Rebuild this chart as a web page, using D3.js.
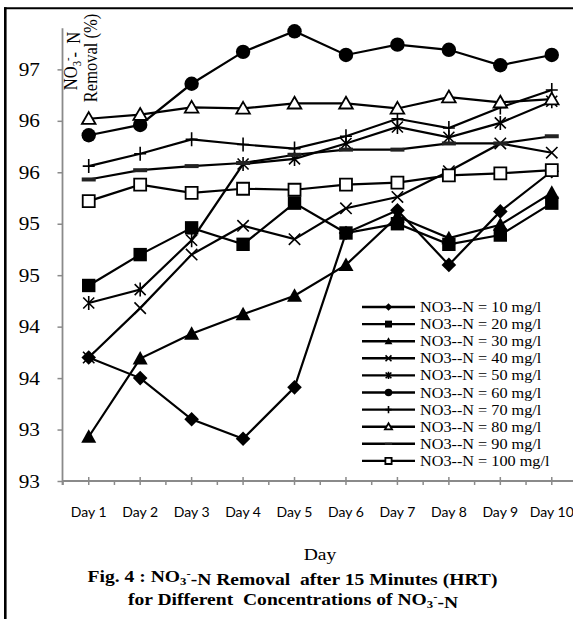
<!DOCTYPE html>
<html><head><meta charset="utf-8">
<script src="https://cdn.jsdelivr.net/npm/d3@7"></script>
<style>body{margin:0;background:#fff}svg{display:block}</style>
</head><body>
<svg id="c" width="573" height="619"></svg>
<script>
// ---------- data ----------
const days = ["Day 1","Day 2","Day 3","Day 4","Day 5","Day 6","Day 7","Day 8","Day 9","Day 10"];
const seriesNames = ["NO3--N = 10 mg/l","NO3--N = 20 mg/l","NO3--N = 30 mg/l","NO3--N = 40 mg/l","NO3--N = 50 mg/l",
  "NO3--N = 60 mg/l","NO3--N = 70 mg/l","NO3--N = 80 mg/l","NO3--N = 90 mg/l","NO3--N = 100 mg/l"];
const s10  = [93.70, 93.50, 93.10, 92.91, 93.41, 94.91, 95.13, 94.60, 95.12, 95.51];
const s20  = [94.40, 94.70, 94.96, 94.80, 95.20, 94.91, 95.00, 94.80, 94.89, 95.20];
const s30  = [92.93, 93.69, 93.93, 94.12, 94.30, 94.60, 95.07, 94.86, 94.99, 95.30];
const s40  = [93.70, 94.18, 94.70, 94.98, 94.85, 95.15, 95.26, 95.51, 95.78, 95.69];
const s50  = [94.23, 94.36, 94.84, 95.58, 95.63, 95.78, 95.94, 95.84, 95.98, 96.19];
const s60  = [95.86, 95.96, 96.36, 96.67, 96.87, 96.64, 96.74, 96.69, 96.54, 96.64];
const s70  = [95.56, 95.68, 95.82, 95.77, 95.73, 95.85, 96.02, 95.93, 96.13, 96.30];
const s80  = [96.02, 96.06, 96.13, 96.12, 96.17, 96.17, 96.12, 96.23, 96.18, 96.21];
const s90  = [95.43, 95.52, 95.56, 95.59, 95.67, 95.72, 95.72, 95.78, 95.78, 95.85];
const s100 = [95.22, 95.38, 95.30, 95.34, 95.33, 95.38, 95.40, 95.47, 95.49, 95.52];
const seriesValues = [s10, s20, s30, s40, s50, s60, s70, s80, s90, s100];
const markerTypes = ["diamond","square","triangle","x","asterisk","circle","plus","openTriangle","dash","openSquare"];
const yTickValues = [92.5, 93, 93.5, 94, 94.5, 95, 95.5, 96, 96.5];
const yTickLabels = ["93","93","94","94","95","95","96","96","97"];

// ---------- setup ----------
const svg = d3.select("#c");
const SX = 1.12; // horizontal text stretch of the original image
const serif = "'Liberation Serif','Times New Roman',serif";
const x = d3.scaleBand().domain(days).range([63, 577.5]).padding(0);
const cx = d => x(d) + x.bandwidth() / 2;
const y = d3.scaleLinear().domain([92.5, 96.9]).range([481, 28.2]);
const axisCol = "#8a8a8a";

function stext(parent, px, py, anchor, size, weight, family) {
  const g = parent.append("g").attr("transform", `translate(${px},${py}) scale(${SX},1)`);
  return g.append("text").attr("text-anchor", anchor).attr("font-size", size)
    .attr("font-weight", weight || "normal").attr("font-family", family || serif).attr("fill", "#000");
}

// outer frame
svg.append("line").attr("x1", 5.3).attr("x2", 5.3).attr("y1", 7.3).attr("y2", 619).attr("stroke", "#000").attr("stroke-width", 2.6);
svg.append("line").attr("x1", 4).attr("x2", 573).attr("y1", 8.3).attr("y2", 8.3).attr("stroke", "#000").attr("stroke-width", 2);

// y axis
const yAxis = svg.append("g").attr("transform", "translate(62.5,0)")
  .call(d3.axisLeft(y).tickValues(yTickValues).tickFormat("").tickSize(5).tickSizeOuter(0));
yAxis.select(".domain").attr("stroke", axisCol).attr("stroke-width", 1.8);
yAxis.selectAll(".tick line").attr("stroke", axisCol).attr("stroke-width", 1.5);
yAxis.select(".domain").attr("d", `M0,${y.range()[1]}V485`);
yTickValues.forEach((v, i) => {
  stext(svg, 40, y(v) + 6.5, "end", 19).text(yTickLabels[i]);
});

// x axis
const xg = svg.append("g");
xg.append("line").attr("x1", 62.5).attr("x2", 578).attr("y1", 481).attr("y2", 481).attr("stroke", axisCol).attr("stroke-width", 1.8);
days.forEach(d => {
  xg.append("line").attr("x1", cx(d)).attr("x2", cx(d)).attr("y1", 477).attr("y2", 485).attr("stroke", axisCol).attr("stroke-width", 1.5);
  xg.append("line").attr("x1", x(d)).attr("x2", x(d)).attr("y1", 481).attr("y2", 485).attr("stroke", axisCol).attr("stroke-width", 1.5);
  xg.append("text").attr("x", cx(d)).attr("y", 516.5).attr("text-anchor", "middle")
    .attr("font-family", "Lato, 'Liberation Sans', sans-serif").attr("font-size", 14).attr("fill", "#000").text(d);
});

// axis titles
stext(svg, 320, 560, "middle", 17.5).text("Day");
function noTspans(t, big) {
  t.append("tspan").text("NO");
  t.append("tspan").attr("font-size", "0.65em").attr("dy", "0.3em").text("3");
  t.append("tspan").attr("font-size", "0.65em").attr("dy", "-0.75em").text("-");
  t.append("tspan").attr("dy", "0.45em").text(big);
}
const yt1 = svg.append("g").attr("transform", "translate(77,61) rotate(-90) scale(1,1.12)")
  .append("text").attr("text-anchor", "middle").attr("font-family", serif).attr("font-size", 16.5).attr("fill", "#000")
  .attr("style", "white-space:pre");
noTspans(yt1, "-  N");
svg.append("g").attr("transform", "translate(97,58) rotate(-90) scale(1,1.12)")
  .append("text").attr("text-anchor", "middle").attr("font-family", serif).attr("font-size", 16.5).attr("fill", "#000")
  .text("Removal (%)");

// figure caption
const t1 = stext(svg, 292.5, 582, "middle", 17.5, "bold").attr("style", "white-space:pre");
t1.append("tspan").text("Fig. 4 : ");
noTspans(t1, "-N Removal  after 15 Minutes (HRT)");
const t2 = stext(svg, 293, 605, "middle", 17.5, "bold").attr("style", "white-space:pre");
t2.append("tspan").text("for Different  Concentrations of ");
noTspans(t2, "-N");

// ---------- markers ----------
function drawMarker(sel, type, s) {
  const k = v => v * s;
  let d, fill = "#000", stroke = "none", sw = 0;
  switch (type) {
    case "diamond": d = `M0,${k(-7.3)}L${k(7.3)},0L0,${k(7.3)}L${k(-7.3)},0Z`; break;
    case "square": d = `M${k(-6.7)},${k(-6.7)}h${k(13.4)}v${k(13.4)}h${k(-13.4)}Z`; break;
    case "triangle": d = `M0,${k(-7.5)}L${k(7.5)},${k(6)}L${k(-7.5)},${k(6)}Z`; break;
    case "x": d = `M${k(-5.7)},${k(-5.7)}L${k(5.7)},${k(5.7)}M${k(-5.7)},${k(5.7)}L${k(5.7)},${k(-5.7)}`; fill = "none"; stroke = "#000"; sw = 1.6; break;
    case "asterisk": d = `M${k(-5.5)},${k(-5.5)}L${k(5.5)},${k(5.5)}M${k(-5.5)},${k(5.5)}L${k(5.5)},${k(-5.5)}M0,${k(-7)}L0,${k(7)}`; fill = "none"; stroke = "#000"; sw = 1.6; break;
    case "circle": { const r = k(7.2); d = `M${r},0A${r},${r} 0 1,1 ${-r},0A${r},${r} 0 1,1 ${r},0Z`; break; }
    case "plus": d = `M0,${k(-7)}L0,${k(7)}M${k(-6)},0L${k(6)},0`; fill = "none"; stroke = "#000"; sw = 1.6; break;
    case "openTriangle": d = `M0,${k(-6.6)}L${k(6.8)},${k(5.2)}L${k(-6.8)},${k(5.2)}Z`; fill = "#fff"; stroke = "#000"; sw = 1.8; break;
    case "dash": d = `M${k(-7)},${k(-2)}h${k(14)}v${k(4)}h${k(-14)}Z`; fill = "#222"; break;
    case "openSquare": d = `M${k(-6)},${k(-6)}h${k(12)}v${k(12)}h${k(-12)}Z`; fill = "#fff"; stroke = "#000"; sw = 1.8; break;
  }
  sel.append("path").attr("d", d).attr("fill", fill).attr("stroke", stroke).attr("stroke-width", sw);
}

// ---------- series ----------
const line = d3.line().x((v, i) => cx(days[i])).y(v => y(v));
const plot = svg.append("g");
seriesValues.forEach((vals, si) => {
  const g = plot.append("g");
  g.append("path").attr("d", line(vals)).attr("fill", "none").attr("stroke", "#000").attr("stroke-width", 2.2);
  vals.forEach((v, i) => {
    const mg = g.append("g").attr("transform", `translate(${cx(days[i])},${y(v)})`);
    drawMarker(mg, markerTypes[si], 1);
  });
});

// ---------- legend ----------
const leg = svg.append("g");
seriesNames.forEach((name, i) => {
  const ry = 307 + i * 17.1;
  leg.append("line").attr("x1", 362).attr("x2", 415).attr("y1", ry).attr("y2", ry).attr("stroke", "#000").attr("stroke-width", 2.4);
  const mg = leg.append("g").attr("transform", `translate(388.5,${ry})`);
  drawMarker(mg, markerTypes[i], 0.52);
  stext(leg, 420, ry + 5, "start", 14.5).text(name);
});
</script>
</body></html>
